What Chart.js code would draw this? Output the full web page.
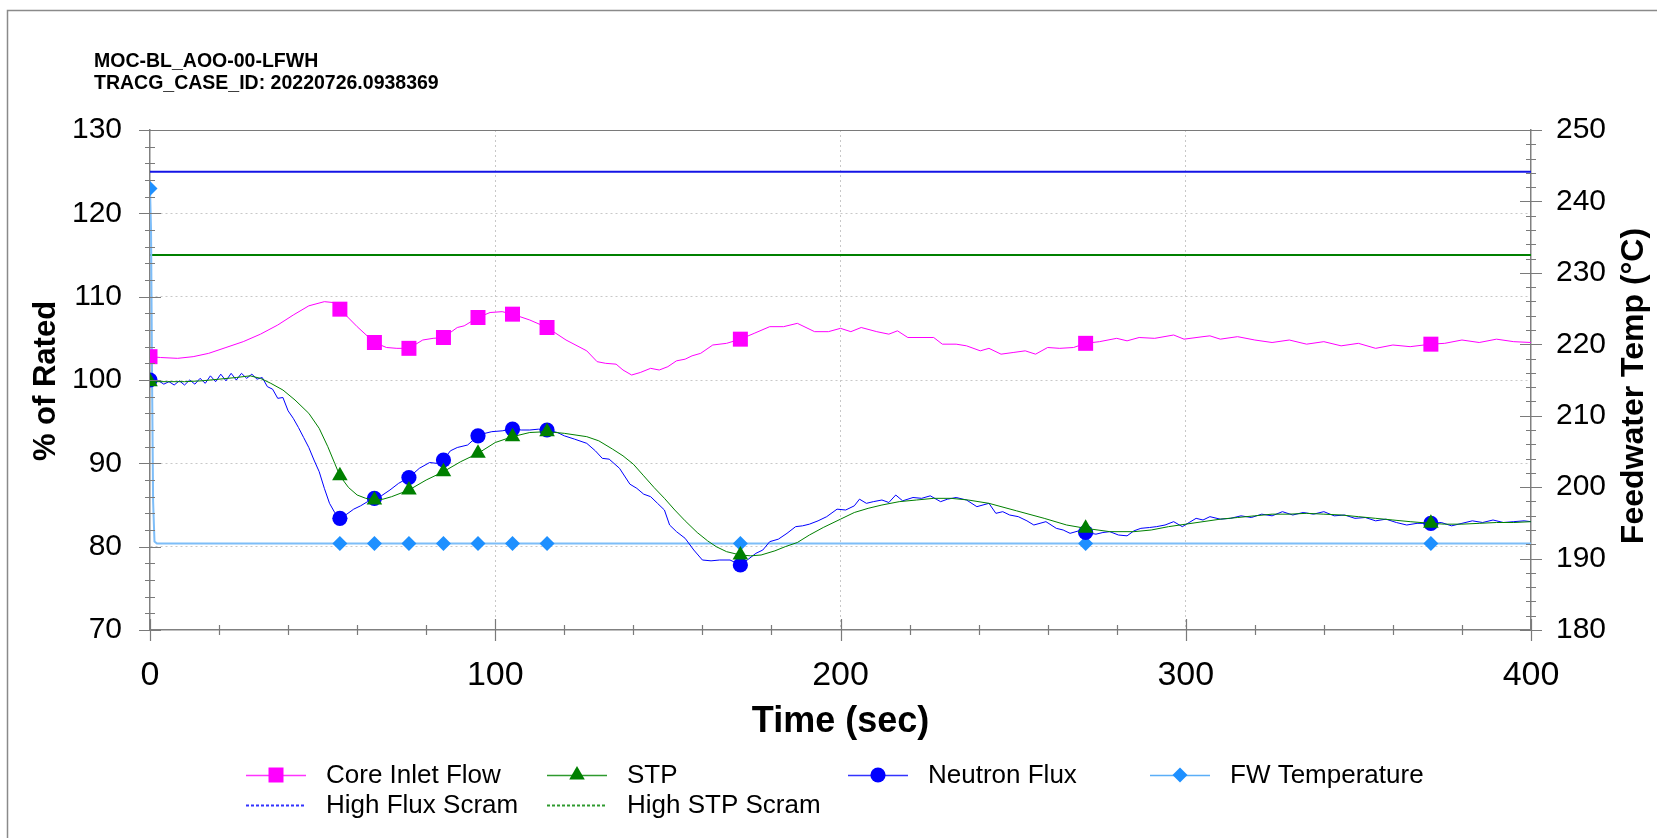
<!DOCTYPE html>
<html>
<head>
<meta charset="utf-8">
<script src="https://cdn.jsdelivr.net/npm/chart.js@4.4.1/dist/chart.umd.min.js"></script>
<style>
  html, body { margin: 0; padding: 0; background: #fff; }
  canvas { display: block; }
</style>
</head>
<body>
<canvas id="chart" width="1657" height="838"></canvas>
<script>
// LFWH transient
const caseName = 'MOC-BL_AOO-00-LFWH';
const caseId = 'TRACG_CASE_ID: 20220726.0938369';

// times (sec) where the series carry a marker
const markerTimes = [0, 55, 65, 75, 85, 95, 105, 115, 171, 271, 371];

// [time, % of rated]
const coreInletFlow = [[0,102.8],[3,102.7],[8,102.6],[12.5,102.8],[17,103.2],[22,103.9],[27,104.6],[32,105.5],[37,106.6],[41.5,107.8],[46,108.9],[50.5,109.4],[53,109.3],[55,108.5],[60,106.4],[65,104.5],[68.5,103.9],[71.5,103.8],[75,103.8],[79,104.8],[82,105.0],[85,105.1],[89,106.3],[91,106.5],[95,107.5],[98.5,108.1],[102,108.2],[105,107.9],[110,107.2],[115,106.3],[120.5,104.8],[126.5,103.5],[129.5,102.2],[132,102.0],[135,101.9],[137,101.2],[139.5,100.6],[142,100.9],[145,101.4],[147.5,101.2],[150,101.6],[152.5,102.3],[155,102.5],[157,102.9],[159.5,103.2],[163,104.2],[167,104.4],[171,104.9],[175,105.6],[179.5,106.4],[183.5,106.4],[187.5,106.8],[192.5,105.8],[196.5,105.8],[200,106.2],[203,105.8],[206,106.3],[210.5,105.8],[214,105.5],[216.5,105.9],[219.5,105.1],[227,105.1],[229.5,104.3],[233.5,104.3],[236.5,104.1],[240.5,103.5],[243,103.8],[246.5,103.1],[250,103.3],[253.5,103.5],[256.5,103.1],[260,103.9],[263.5,103.8],[267.5,103.9],[271,104.4],[275,104.6],[280,105.0],[283,104.7],[286.5,105.1],[291,105.0],[296.5,105.4],[299.5,104.9],[305,105.2],[307,105.3],[310,104.9],[315,105.2],[320,104.8],[325,104.5],[330,104.8],[335,104.3],[340,104.6],[345,104.1],[350,104.4],[355,103.8],[360,104.2],[365,104.0],[371,104.3],[375,104.4],[380,104.8],[385,104.5],[390,104.9],[395,104.6],[400,104.5]];

const stp = [[0,99.8],[5,99.8],[10,99.8],[15,99.9],[20,100.1],[25,100.3],[29,100.5],[32,100.2],[35,99.6],[38.5,98.8],[42,97.6],[46,96.0],[49,94.2],[51.5,92.0],[53.5,90.0],[55,88.5],[57.5,87.1],[60,86.2],[62.5,85.8],[65,85.6],[67.5,85.7],[70,86.0],[75,86.8],[80,88.0],[85,89.0],[90,90.2],[95,91.2],[100,92.5],[105,93.2],[110,93.7],[115,93.8],[120,93.6],[126.5,93.2],[130,92.7],[134,91.7],[137,90.9],[140,89.9],[143,88.5],[146,87.1],[149,85.8],[152,84.4],[155,83.1],[158.5,81.7],[161.5,80.7],[164,80.0],[167,79.4],[171,79.0],[174,78.9],[177,79.0],[181,79.5],[184,80.0],[187.5,80.5],[191,81.4],[195,82.3],[200,83.3],[204,84.1],[208,84.6],[212,85.0],[217,85.4],[222,85.6],[227,85.8],[232,85.8],[237,85.6],[243,85.2],[251,84.3],[259,83.4],[265.5,82.6],[271,82.2],[278,81.8],[285,81.8],[290,82.0],[295,82.4],[300,82.7],[305,83.0],[310,83.3],[315,83.5],[320,83.7],[325,83.9],[330,83.9],[335,84.0],[340,83.9],[345,83.8],[350,83.6],[355,83.4],[360,83.2],[365,83.0],[371,82.8],[375,82.7],[380,82.7],[385,82.8],[390,82.9],[395,82.9],[400,83.0]];

const neutronFlux = [[0,100.0],[1,99.6],[2.5,99.9],[4,99.5],[5.5,99.8],[7,99.4],[8.5,99.9],[10,99.4],[11.5,100.0],[13,99.5],[14.5,100.2],[16,99.6],[17.5,100.5],[19,99.8],[20.5,100.7],[22,99.9],[23.5,100.8],[25,100.0],[26.5,100.8],[28,100.2],[29.5,100.7],[31,100.1],[32.5,100.3],[34,99.2],[35.5,98.9],[37,97.8],[38.5,97.9],[40,96.3],[41.5,95.4],[43,94.3],[44.5,93.1],[46,91.9],[47.5,90.4],[49,89.0],[50.5,87.0],[52,85.2],[53.5,84.1],[55,83.4],[57,83.9],[59,84.5],[61,84.9],[63,85.4],[65,85.8],[67,86.1],[69.5,86.8],[72,87.6],[75,88.3],[78,89.4],[81,90.1],[83,90.0],[85,90.4],[87,91.5],[89,91.9],[92,92.2],[95,93.3],[97,93.6],[99,93.8],[102,93.9],[105,94.1],[107.5,94.0],[110,94.0],[112.5,94.1],[115,94.0],[118,93.7],[120,93.3],[123,92.9],[126.5,92.4],[129,91.5],[131,90.6],[133,90.5],[136,89.4],[139,87.5],[141,87.0],[143,86.3],[145,86.0],[147,85.2],[149,84.4],[150.5,82.6],[152.5,81.8],[155,81.0],[157.5,79.6],[160,78.4],[162.5,78.3],[165,78.4],[168,78.4],[171,77.8],[173,78.4],[175.5,79.2],[177.5,79.6],[179.5,80.6],[182,80.9],[184.5,81.6],[187,82.4],[189,82.5],[191,82.7],[193.5,83.1],[196,83.6],[199,84.5],[201.5,84.4],[204,84.9],[205.5,85.7],[207.5,85.2],[209.5,85.4],[212,85.6],[214,85.3],[216,86.2],[218,85.5],[221,85.9],[223.5,85.8],[226,86.1],[229,85.4],[231,85.7],[233.5,85.9],[236.5,85.6],[239.5,84.8],[243,85.2],[245,84.0],[247,84.2],[249,83.8],[251.5,83.6],[254,83.1],[256,82.6],[259.5,83.0],[262.5,82.2],[264.5,82.0],[266.5,81.6],[269,81.9],[271,81.7],[274,81.5],[276,81.7],[278,81.8],[280.5,81.4],[283,81.3],[285,81.9],[287,82.2],[289.5,82.3],[291.5,82.4],[294,82.6],[296.5,83.0],[299,82.4],[301,82.9],[303,83.4],[305,83.2],[307,83.6],[310,83.3],[313,83.4],[316,83.7],[319,83.5],[322,83.9],[325,83.7],[328,84.2],[331,83.8],[334,84.1],[337,83.9],[340,84.2],[343,83.7],[346,83.8],[349,83.4],[352,83.5],[355,83.1],[358,83.3],[361,82.9],[364,82.6],[367,82.8],[371,82.8],[374,82.9],[377,82.5],[380,82.8],[383,83.1],[386,82.9],[389,83.2],[392,82.9],[395,83.0],[398,83.1],[400,83.0]];

// [time, degC] on the right axis
const fwTemperature = [[0,241.8],[0.3,236],[0.6,215],[0.9,198],[1.3,192.4],[2,192.1],[55,192.1],[65,192.1],[75,192.1],[85,192.1],[95,192.1],[105,192.1],[115,192.1],[171,192.1],[271,192.1],[371,192.1],[400,192.1]];

const highFluxScram = [[0,125],[400,125]];
const highStpScram = [[0,115],[400,115]];

const FONT = "'Liberation Sans', Arial, sans-serif";
Chart.defaults.font.family = FONT;
Chart.defaults.color = '#000';

const toXY = arr => arr.map(p => ({x: p[0], y: p[1]}));
const markerSize = r => ctx => markerTimes.includes(ctx.raw.x) ? r : 0;

function series(label, data, color, style, radius, order, extra) {
  return Object.assign({
    label, data: toXY(data), order,
    borderColor: color, backgroundColor: color,
    borderWidth: 1, tension: 0,
    pointStyle: style, pointRadius: markerSize(radius),
    pointBackgroundColor: color, pointBorderWidth: 0, pointHoverRadius: 0
  }, extra || {});
}

const datasets = [
  series('Core Inlet Flow', coreInletFlow, '#FF00FF', 'rect', 10.6, 1),
  series('STP', stp, '#008000', 'triangle', 9, 2),
  series('Neutron Flux', neutronFlux, '#0000FF', 'circle', 7.6, 3),
  series('FW Temperature', fwTemperature, '#1E90FF', 'rectRot', 7.5, 4,
    {yAxisID: 'y2', borderColor: '#7DBDF8', borderWidth: 2}),
  series('High Flux Scram', highFluxScram, '#1414E6', false, 0, 5, {borderWidth: 2, pointRadius: 0}),
  series('High STP Scram', highStpScram, '#008000', false, 0, 6, {borderWidth: 2, pointRadius: 0})
];

const legendItems = [
  {label: 'Core Inlet Flow', line: '#FF33FF', fill: '#FF00FF', style: 'rect', r: 10.6, col: 0, row: 0},
  {label: 'STP', line: '#2E9A2E', fill: '#008000', style: 'triangle', r: 9, col: 1, row: 0},
  {label: 'Neutron Flux', line: '#3333FF', fill: '#0000FF', style: 'circle', r: 7.6, col: 2, row: 0},
  {label: 'FW Temperature', line: '#5AAEF8', fill: '#1E90FF', style: 'rectRot', r: 7.5, col: 3, row: 0},
  {label: 'High Flux Scram', line: '#3333FF', dash: [3, 2], col: 0, row: 1},
  {label: 'High STP Scram', line: '#2E9A2E', dash: [3, 2], col: 1, row: 1}
];
const legendCols = [246, 547, 848, 1150];
const legendRows = [775, 805];

function drawTicks(c, scale, min, max, minor, major, base, horizontal) {
  const n = Math.round((max - min) / minor);
  for (let i = 0; i <= n; i++) {
    const v = min + i * minor;
    const isMajor = Math.abs(v % major) < 1e-6;
    const half = isMajor ? 11 : 5;
    const p = Math.round(scale.getPixelForValue(v)) + 0.5;
    if (horizontal) { c.moveTo(p, base - half); c.lineTo(p, base + half); }
    else { c.moveTo(base - half, p); c.lineTo(base + half, p); }
  }
}

const decorations = {
  id: 'decorations',
  beforeDraw(chart) {
    const c = chart.ctx;
    c.save();
    c.fillStyle = '#fff';
    c.fillRect(0, 0, chart.width, chart.height);
    c.strokeStyle = '#8a8a8a';
    c.lineWidth = 1.5;
    c.beginPath();
    c.moveTo(7.5, chart.height);
    c.lineTo(7.5, 10.5);
    c.lineTo(chart.width, 10.5);
    c.stroke();
    c.restore();
  },
  afterDraw(chart) {
    const c = chart.ctx;
    const a = chart.chartArea;
    const s = chart.scales;
    c.save();

    // tick marks crossing the axes + top border
    c.strokeStyle = '#7a7a7a';
    c.lineWidth = 1.2;
    c.beginPath();
    drawTicks(c, s.y, 70, 130, 2, 10, a.left, false);
    drawTicks(c, s.y2, 180, 250, 2, 10, a.right, false);
    drawTicks(c, s.x, 0, 400, 20, 100, a.bottom, true);
    c.moveTo(a.left, a.top + 0.5);
    c.lineTo(a.right, a.top + 0.5);
    c.stroke();

    // header
    c.fillStyle = '#000';
    c.textAlign = 'left';
    c.textBaseline = 'middle';
    c.font = 'bold 19.5px ' + FONT;
    c.fillText(caseName, 94, 62);
    c.fillText(caseId, 94, 84);

    // axis titles
    c.textAlign = 'center';
    c.font = 'bold 36px ' + FONT;
    c.fillText('Time (sec)', (a.left + a.right) / 2, 722);
    c.font = 'bold 31px ' + FONT;
    c.save();
    c.translate(46, 381);
    c.rotate(-Math.PI / 2);
    c.fillText('% of Rated', 0, 0);
    c.restore();
    c.font = 'bold 32px ' + FONT;
    c.save();
    c.translate(1634, 386);
    c.rotate(-Math.PI / 2);
    c.fillText('Feedwater Temp (\u00B0C)', 0, 0);
    c.restore();

    // legend
    c.textAlign = 'left';
    c.font = '26px ' + FONT;
    legendItems.forEach(it => {
      const x = legendCols[it.col];
      const y = legendRows[it.row];
      c.save();
      c.strokeStyle = it.line;
      c.lineWidth = it.dash ? 2 : 1.5;
      c.setLineDash(it.dash || []);
      c.beginPath();
      c.moveTo(x, y + 0.5);
      c.lineTo(x + 60, y + 0.5);
      c.stroke();
      c.restore();
      if (it.style) {
        c.fillStyle = it.fill;
        Chart.helpers.drawPoint(c, {pointStyle: it.style, radius: it.r, rotation: 0, borderWidth: 0}, x + 30, y);
      }
      c.fillStyle = '#000';
      c.fillText(it.label, x + 80, y + 1);
    });
    c.restore();
  }
};

const dottedGrid = lo => hi => ctx => (ctx.tick && ctx.tick.value > lo && ctx.tick.value < hi) ? '#c8c8c8' : 'rgba(0,0,0,0)';

new Chart(document.getElementById('chart'), {
  type: 'line',
  data: {datasets},
  plugins: [decorations],
  options: {
    responsive: false,
    animation: false,
    devicePixelRatio: 1,
    events: [],
    layout: {padding: {top: 130, left: 0, right: 0, bottom: 0}},
    plugins: {legend: {display: false}, tooltip: {enabled: false}},
    scales: {
      x: {
        type: 'linear', min: 0, max: 400,
        ticks: {stepSize: 100, padding: 25, font: {size: 34}, color: '#000'},
        grid: {color: dottedGrid(0)(400), drawTicks: false, lineWidth: 1},
        border: {color: '#808080', width: 1.5, dash: [2, 3]},
        afterFit: sc => { sc.height = 208; }
      },
      y: {
        position: 'left', min: 70, max: 130,
        ticks: {stepSize: 10, padding: 28, font: {size: 30}, color: '#000'},
        grid: {color: dottedGrid(70)(130), drawTicks: false, lineWidth: 1},
        border: {color: '#808080', width: 1.5, dash: [2, 3]},
        afterFit: sc => { sc.width = 150; }
      },
      y2: {
        position: 'right', min: 180, max: 250,
        ticks: {stepSize: 10, padding: 25, font: {size: 30}, color: '#000'},
        grid: {drawOnChartArea: false, drawTicks: false},
        border: {color: '#808080', width: 1.5},
        afterFit: sc => { sc.width = 126; }
      }
    }
  }
});
</script>
</body>
</html>
